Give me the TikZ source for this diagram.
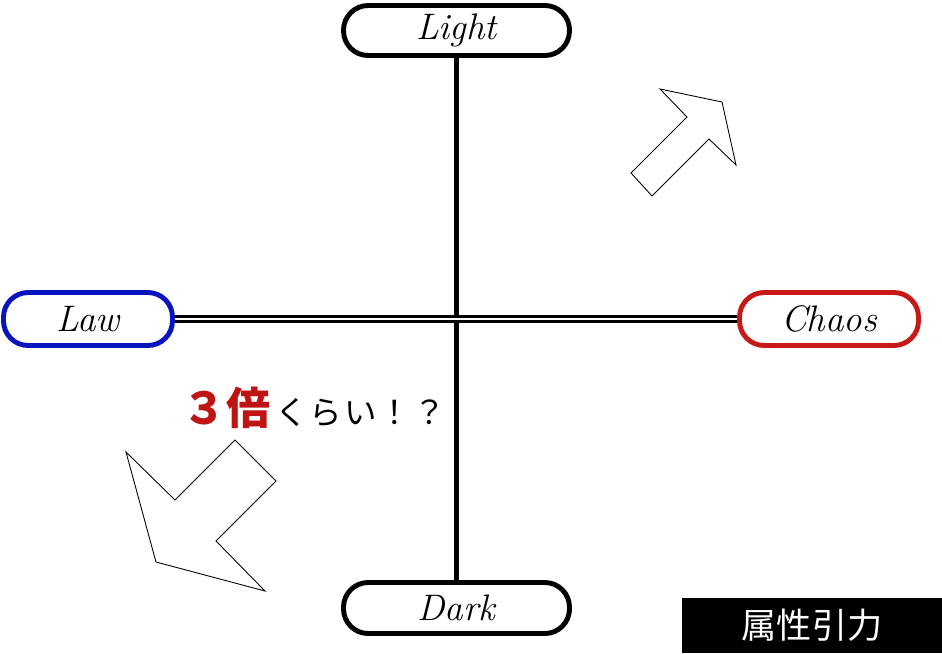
\documentclass[tikz,border=0pt]{standalone}
\usepackage{fontspec}
\newfontfamily\jpfont{Noto Sans CJK JP}
\newfontfamily\jpwide[LetterSpace=6]{Noto Sans CJK JP}
\definecolor{lawblue}{RGB}{10,20,190}
\definecolor{chaosred}{RGB}{200,25,25}
\definecolor{baired}{RGB}{190,20,20}
\tikzset{
  axisbox/.style={draw, rounded corners=14pt, line width=2.8pt, fill=white,
    font=\fontsize{21}{25}\selectfont\itshape, inner sep=0pt},
}
\begin{document}
\begin{tikzpicture}[x=0.02cm, y=-0.02cm]
    \useasboundingbox (0,0) rectangle (942,653);

    % Draw nodes for the four poles
    \node[axisbox, minimum width=4.52cm, minimum height=1.0cm] (light) at (456.5, 30.5) {Light};
    \node[axisbox, minimum width=4.52cm, minimum height=1.02cm] (dark) at (456.5, 608) {Dark};
    \node[axisbox, draw=lawblue, minimum width=3.38cm, minimum height=1.06cm] (law) at (88, 319) {Law};
    \node[axisbox, draw=chaosred, minimum width=3.58cm, minimum height=1.06cm] (chaos) at (829, 319) {Chaos};

    % Draw the two axes
    \draw[line width=2.3pt] (light) -- (dark);
    \draw[double, line width=1.7pt, double distance=0.8pt] (law) -- (chaos);

    % Draw the arrows
    \draw[line width=0.5pt] (660,89) -- (722,102) -- (736,165) -- (709,139) -- (652,196)
        -- (631,173) -- (687,117) -- cycle;
    \draw[line width=0.5pt] (126,452) -- (175,500) -- (235,440) -- (276,481) -- (216,541)
        -- (265,591) -- (156,562) -- cycle;

    % Draw the texts
    \node[anchor=base west, inner sep=0pt] (bai) at (182, 424)
        {{\jpfont\color{baired}\fontsize{25}{30}\selectfont\bfseries ３倍}\hspace{3pt}{\jpwide\fontsize{18.5}{22}\selectfont くらい！？}};
    \node[fill=black, text=white, minimum width=5.2cm, minimum height=1.1cm, inner sep=0pt,
        font=\jpfont\fontsize{20}{24}\selectfont] (title) at (812, 625.5) {属性引力};
\end{tikzpicture}
\end{document}
